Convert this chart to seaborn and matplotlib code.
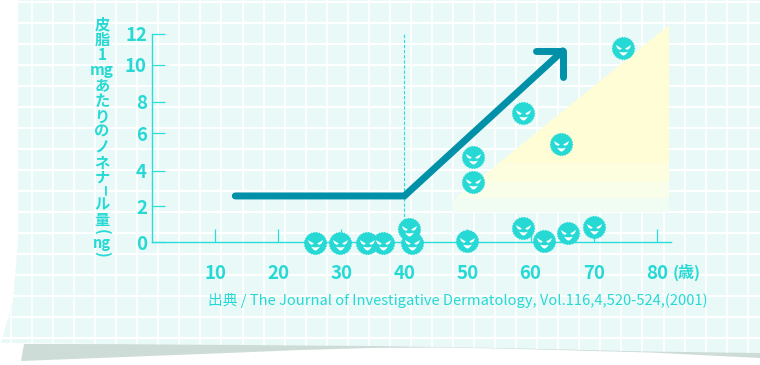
import numpy as np
import matplotlib
matplotlib.use("Agg")
import matplotlib.pyplot as plt
from matplotlib.path import Path
from matplotlib.patches import Polygon, Rectangle
import seaborn as sns

# ---------- data ----------
ages = [25.8, 29.8, 34.1, 36.6, 40.7, 41.2, 49.9, 50.9, 50.9, 58.8, 58.8, 62.1, 64.8, 65.9, 70.0, 74.6]
nonenal = [-0.05, -0.05, -0.08, -0.08, 0.75, -0.05, 0.07, 3.45, 4.9, 0.8, 7.42, 0.07, 5.64, 0.52, 0.86, 11.17]
trend_x = [13.2, 40.0, 65.1]
trend_y = [2.65, 2.65, 11.0]
head_x = [60.9, 65.1, 65.1]
head_y = [11.0, 11.0, 9.5]
x_ticks = [10, 20, 30, 40, 50, 60, 70, 80]
y_labels = ["0", "2", "4", "6", "8", "10", "12"]
y_tick_pos = [0, 2.07, 4.1, 6.25, 8.06, 10.19, 12]
y_title_upper = ["皮", "脂", "1", "mg", "あ", "た", "り", "の", "ノ", "ネ", "ナ"]
y_title_mid = ["ル", "量"]
source = "出典 / The Journal of Investigative Dermatology, Vol.116,4,520-524,(2001)"

CYAN = "#27d9d4"
TEAL = "#0090a8"
PAPER = "#e9f9f8"
JP = ["Noto Sans CJK JP", "DejaVu Sans"]

sns.set_theme(style="white")
plt.rcParams["font.family"] = JP

fig = plt.figure(figsize=(7.6, 3.65), dpi=100, facecolor="white")

# ---------- paper background, in pixel coordinates ----------
bg = fig.add_axes([0, 0, 1, 1], zorder=-1)
bg.set_xlim(0, 760)
bg.set_ylim(365, 0)
bg.axis("off")

shadow = Polygon([(24, 344), (21, 361), (240, 352.5), (300, 350), (370, 348), (440, 347.5),
                  (500, 348.5), (650, 352.5), (760, 358), (760, 345)],
                 closed=True, fc="#cddcd7", ec="none", zorder=1)
bg.add_patch(shadow)
paper_pts = [(18, 0), (760, 0), (760, 353), (650, 351.5), (500, 348), (440, 347), (370, 346),
             (240, 345), (0, 343), (1, 343), (13, 300), (16, 265), (18, 240)]
paper = Polygon(paper_pts, closed=True, fc=PAPER, ec="none", zorder=2)
bg.add_patch(paper)

for gx in np.arange(11, 760, 21.05):
    ln = bg.axvline(gx, color="white", lw=1.3, zorder=3)
    ln.set_clip_path(paper)
for gy in np.arange(2.3, 345, 21.0):
    ln = bg.axhline(gy, color="white", lw=1.5, zorder=3)
    ln.set_clip_path(paper)

# yellow wedge, fading in bands towards the bottom
wedge = Polygon([(452, 201), (669, 25), (669, 212), (452, 212)], closed=True, fc="none", ec="none", zorder=4)
bg.add_patch(wedge)
bands = [(20, 163, "#fffdd6"), (163, 182, "#fcfedf"), (182, 198, "#f8fee9"), (198, 212, "#f1fcf2")]
for y0, y1, col in bands:
    r = Rectangle((440, y0), 240, y1 - y0, fc=col, ec="none", zorder=4)
    bg.add_patch(r)
    r.set_clip_path(wedge)

# ---------- main axes ----------
ax = fig.add_axes([152 / 760, (365 - 242) / 365, (670.6 - 152) / 760, (242 - 33.5) / 365], zorder=1)
ax.patch.set_alpha(0)
ax.set_xlim(0, 82.2)
ax.set_ylim(0, 12)
sns.despine(ax=ax)
for s in ("left", "bottom"):
    ax.spines[s].set_color("#2cdcd8")
    ax.spines[s].set_linewidth(1.0)

ax.set_xticks(x_ticks, [str(v) for v in x_ticks])
ax.set_yticks(y_tick_pos, y_labels)
ax.tick_params(axis="both", direction="in", length=9.4, width=0.9, color="#2cdcd8",
               labelcolor=CYAN, left=True, bottom=True)
ax.tick_params(axis="x", pad=15.6)
ax.tick_params(axis="y", pad=3.6)
for lab in ax.get_xticklabels() + ax.get_yticklabels():
    lab.set_fontsize(13.4)
    lab.set_fontweight("bold")

ax.axvline(40, color="#2cdcd8", lw=0.8, ls=(0, (3, 1.6)), zorder=2)

sns.lineplot(x=trend_x, y=trend_y, sort=False, estimator=None, color=TEAL, lw=5,
             solid_capstyle="round", solid_joinstyle="miter", ax=ax, zorder=3, clip_on=False)
sns.lineplot(x=head_x, y=head_y, sort=False, estimator=None, color=TEAL, lw=5,
             solid_capstyle="round", solid_joinstyle="round", ax=ax, zorder=3, clip_on=False)

# germ character markers
n_teeth = 26
ang = np.linspace(0, 2 * np.pi, 2 * n_teeth, endpoint=False)
rad = np.where(np.arange(2 * n_teeth) % 2 == 0, 1.0, 0.92)
body = Path(np.column_stack([rad * np.cos(ang), rad * np.sin(ang)]))

t = np.linspace(0, 1, 16)
left_eye = [(-1.1, 0.5), (-0.24, 0.0), (-0.5, -0.2), (-0.85, -0.02)]
right_eye = [(-x, y) for x, y in left_eye]
mouth_top = np.column_stack([-0.62 + 1.24 * t, -0.45 - 0.1 * np.sin(np.pi * t)])
mouth_bot = np.column_stack([0.62 - 1.24 * t, -0.45 - 0.55 * np.sin(np.pi * t)])
verts, codes = [], []
for poly in (left_eye, right_eye, np.vstack([mouth_top, mouth_bot]).tolist()):
    verts += list(poly) + [poly[0]]
    codes += [Path.MOVETO] + [Path.LINETO] * (len(poly) - 1) + [Path.CLOSEPOLY]
face = Path(np.array(verts, dtype=float), codes)

sns.scatterplot(x=ages, y=nonenal, marker=body, s=288, color=CYAN, linewidth=0, ax=ax,
                zorder=5, clip_on=False, legend=False)
sns.scatterplot(x=ages, y=nonenal, marker=face, s=123, color="white", linewidth=0, ax=ax,
                zorder=6, clip_on=False, legend=False)
ax.set_xlabel("")
ax.set_ylabel("")

# ---------- text, in pixel coordinates ----------
kw = dict(ha="center", va="center", fontweight="bold", color=CYAN, zorder=7)
bg.text(102, 101, "\n".join(y_title_upper), multialignment="center", fontsize=11, linespacing=0.95, **kw)
bg.text(102, 191, "ー", fontsize=8.5, rotation=-90, rotation_mode="anchor", **kw)
bg.text(102, 212.5, "\n".join(y_title_mid), multialignment="center", fontsize=11, linespacing=0.97, **kw)
bg.text(102, 232, "(", fontsize=11, rotation=-90, rotation_mode="anchor", **kw)
bg.text(102, 243, "ng", fontsize=10.5, **kw)
bg.text(102, 254, ")", fontsize=11, rotation=-90, rotation_mode="anchor", **kw)
bg.text(673, 272, "(歳)", ha="left", va="center", fontsize=11.5, fontweight="bold", color=CYAN, zorder=7)
bg.text(208, 300, source, ha="left", va="center", fontsize=10.6, color=CYAN, zorder=7)

fig.savefig("out.png", dpi=100)
